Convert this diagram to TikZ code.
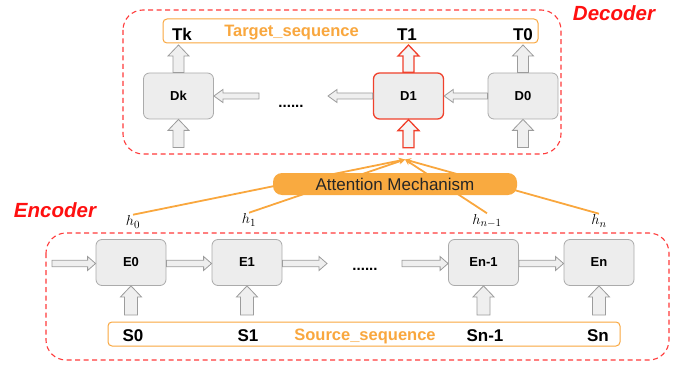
\documentclass[tikz,border=0pt]{standalone}
\usepackage{fontspec}
\setmainfont{Liberation Sans}
\usetikzlibrary{calc,arrows.meta}
\definecolor{boxfill}{HTML}{EDEDED}
\definecolor{boxline}{HTML}{ABABAB}
\definecolor{arrfill}{HTML}{EFEFEF}
\definecolor{arrline}{HTML}{9C9C9C}
\definecolor{dashred}{HTML}{FF3B3B}
\definecolor{labred}{HTML}{FF1010}
\definecolor{hotred}{HTML}{F0412C}
\definecolor{orng}{HTML}{F9A73E}
\definecolor{attfill}{HTML}{F9AA40}
% vertical (upward) block arrow: #2 bottom, #3 top, #4 half shaft, #5 half head, #6 head length
\newcommand\vblk[6][]{%
  \draw[blockarr,#1] let \p1=(#2), \p2=(#3) in
    ({\x1-#4},\y1) -- ({\x1+#4},\y1) -- ({\x1+#4},{\y2-#6}) -- ({\x1+#5},{\y2-#6}) -- (\x1,\y2)
    -- ({\x1-#5},{\y2-#6}) -- ({\x1-#4},{\y2-#6}) -- cycle;}
% horizontal block arrow: #2 start, #3 tip, #6 signed head length (+ right, - left)
\newcommand\hblk[6][]{%
  \draw[blockarr,#1] let \p1=(#2), \p2=(#3) in
    (\x1,{\y1-#4}) -- ({\x2-(#6)},{\y1-#4}) -- ({\x2-(#6)},{\y1-#5}) -- (\x2,\y1)
    -- ({\x2-(#6)},{\y1+#5}) -- ({\x2-(#6)},{\y1+#4}) -- (\x1,{\y1+#4}) -- cycle;}
\begin{document}
\begin{tikzpicture}[x=1pt,y=-1pt,
  cell/.style={draw=boxline,fill=boxfill,rounded corners=6pt,line width=0.8pt,
    minimum width=70pt,minimum height=46pt,inner sep=0pt,
    font=\fontsize{13}{15}\selectfont\bfseries},
  hotcell/.style={cell,draw=hotred,line width=1.3pt},
  seqbox/.style={draw=orng,line width=1pt,rounded corners=4pt,fill=white},
  seqlab/.style={anchor=base,inner sep=0pt,font=\fontsize{17}{20}\selectfont\bfseries},
  seqname/.style={seqlab,text=orng,font=\fontsize{16.5}{20}\selectfont\bfseries},
  region/.style={draw=dashred,dashed,dash pattern=on 5pt off 3.5pt,line width=1.1pt,rounded corners=20pt},
  regname/.style={text=labred,font=\fontsize{20.5}{24}\selectfont\bfseries\itshape,inner sep=0pt},
  blockarr/.style={draw=arrline,fill=arrfill,line width=0.8pt,line join=miter},
  hotarr/.style={draw=hotred,fill=white!96!black,line width=1.3pt},
  dots/.style={anchor=base,inner sep=0pt,font=\fontsize{15}{18}\selectfont\bfseries},
  attn/.style={fill=attfill,rounded corners=9pt,minimum width=244pt,minimum height=22pt,
    inner sep=0pt,font=\fontsize{17}{20}\selectfont,text=black!85},
  hlab/.style={inner sep=1pt,font=\fontsize{15}{18}\selectfont},
  attline/.style={draw=orng,line width=1.8pt,-{Stealth[length=6pt,width=6pt]}}
]
\useasboundingbox (0,0) rectangle (689,369);

% ---------------- Decoder ----------------
\draw[region] (123,10) rectangle (561,154);
\node[regname] (decname) at (614,13) {Decoder};
\draw[seqbox] (163,19) rectangle (538,43);
\coordinate (tgtS) at (350,45);
\node[seqname] (tgtname) at (291.5,36.5) {Target\_sequence};
\node[seqlab] (Tk) at (182,41) {Tk};
\node[seqlab] (T1) at (407,41) {T1};
\node[seqlab] (T0) at (523,41) {T0};

\node[cell] (Dk) at (178.5,96) {Dk};
\node[hotcell] (D1) at (408.5,96) {D1};
\node[cell] (D0) at (523,96) {D0};
\node[dots] (ddots) at (291,107.5) {......};
\coordinate (dkin) at (259,96);
\coordinate (d1out) at (328,96);

% horizontal decoder arrows (leftwards)
\hblk{D0.west}{D1.east}{3pt}{6.5pt}{-9pt}
\hblk{D1.west}{d1out}{3pt}{6.5pt}{-9pt}
\hblk{dkin}{Dk.east}{3pt}{6.5pt}{-9pt}
% vertical decoder arrows
\vblk{$(Dk.south)+(0,28)$}{Dk.south}{5.5pt}{10.5pt}{11pt}
\vblk{Dk.north}{Dk.north |- tgtS}{5.5pt}{10.5pt}{11pt}
\vblk{$(D0.south)+(0,28)$}{D0.south}{5.5pt}{10.5pt}{11pt}
\vblk{D0.north}{D0.north |- tgtS}{5.5pt}{10.5pt}{11pt}
\vblk[hotarr]{$(D1.south)+(0,28)$}{D1.south}{5.5pt}{10.5pt}{11pt}
\vblk[hotarr]{D1.north}{D1.north |- tgtS}{5.5pt}{10.5pt}{11pt}

% ---------------- Attention ----------------
\coordinate (focus) at (405,159.5);
\node[hlab] (h0) at (133,222) {$h_0$};
\node[hlab] (h1) at (249,220) {$h_1$};
\node[hlab] (hm) at (487,221) {$h_{n-1}$};
\node[hlab] (hn) at (599,221) {$h_n$};
\draw[attline] (h0.north) -- (focus);
\draw[attline] (h1.north) -- (focus);
\draw[attline] (hm.north) -- (focus);
\draw[attline] (hn.north) -- (focus);
\node[attn] (att) at (395,184) {Attention Mechanism};

% ---------------- Encoder ----------------
\node[regname] (encname) at (55,210) {Encoder};
\draw[region] (46,233) rectangle (669,360);
\draw[seqbox] (108,322) rectangle (620,346);
\coordinate (srcN) at (360,315);
\node[seqname] (srcname) at (365,340) {Source\_sequence};
\node[seqlab] (S0) at (133,341) {S0};
\node[seqlab] (S1) at (248,341) {S1};
\node[seqlab] (Sm) at (485,341) {Sn-1};
\node[seqlab] (Sn) at (598,341) {Sn};

\node[cell] (E0) at (131,262.5) {E0};
\node[cell] (E1) at (247,262.5) {E1};
\node[cell] (Em) at (483.5,262.5) {En-1};
\node[cell] (En) at (599,262.5) {En};
\node[dots] (edots) at (365,270) {......};
\coordinate (e0in) at (52,263.5);
\coordinate (e1out) at (327,263.5);
\coordinate (emin) at (402,263.5);

\hblk{e0in}{E0.west |- e0in}{3.2pt}{7pt}{8pt}
\hblk{E0.east |- e0in}{E1.west |- e0in}{3.2pt}{7pt}{8pt}
\hblk{E1.east |- e0in}{e1out}{3.2pt}{7pt}{8pt}
\hblk{emin}{Em.west |- e0in}{3.2pt}{7pt}{8pt}
\hblk{Em.east |- e0in}{En.west |- e0in}{3.2pt}{7pt}{8pt}

\vblk{E0.south |- srcN}{E0.south}{6.5pt}{10.5pt}{11pt}
\vblk{E1.south |- srcN}{E1.south}{6.5pt}{10.5pt}{11pt}
\vblk{Em.south |- srcN}{Em.south}{6.5pt}{10.5pt}{11pt}
\vblk{En.south |- srcN}{En.south}{6.5pt}{10.5pt}{11pt}
\end{tikzpicture}
\end{document}
